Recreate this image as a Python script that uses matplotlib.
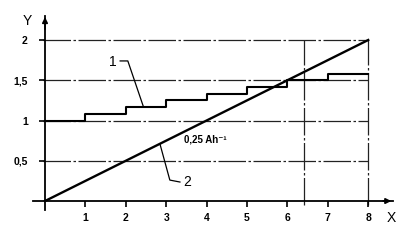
import matplotlib
matplotlib.use("Agg")
import matplotlib.pyplot as plt
import numpy as np

# Data
step_x = [0, 1, 2, 3, 4, 5, 6, 7, 8]
step_y = [1.0, 1.083, 1.167, 1.25, 1.333, 1.417, 1.5, 1.583, 1.583]
line_x = [0, 8]
line_y = [0, 2]
grid_y = [0.5, 1.0, 1.5, 2.0]
vlines_x = [6.4, 8.0]
xticks = [1, 2, 3, 4, 5, 6, 7, 8]
xticklabels = ["1", "2", "3", "4", "5", "6", "7", "8"]
yticks = [0.5, 1.0, 1.5, 2.0]
yticklabels = ["0,5", "1", "1,5", "2"]

plt.rcParams['font.family'] = ['Liberation Sans', 'DejaVu Sans']

fig = plt.figure(figsize=(4.12, 2.42), dpi=100)
ax = fig.add_axes([0, 0, 1, 1])
ax.set_xlim(-1.114, 9.084)
ax.set_ylim(-0.509, 2.497)

# grid lines
for gy in grid_y:
    ax.plot([-0.05, 8.0], [gy, gy], color='#222222', lw=0.9,
            linestyle=(0, (22, 2, 2, 2)), zorder=1)
for vx in vlines_x:
    ax.plot([vx, vx], [-0.05, 2.0], color='#222222', lw=0.9,
            linestyle=(0, (22, 2, 2, 2)), zorder=1)

# curves
ax.step(step_x, step_y, where='post', color='black', lw=1.5, zorder=3)
ax.plot(line_x, line_y, color='black', lw=1.7, zorder=3)

# axes (spines)
for s in ['top', 'right']:
    ax.spines[s].set_visible(False)
ax.spines['left'].set_position(('data', 0))
ax.spines['bottom'].set_position(('data', 0))
ax.spines['left'].set_bounds(-0.11, 2.30)
ax.spines['bottom'].set_bounds(-0.3, 8.62)
ax.spines['left'].set_linewidth(1.3)
ax.spines['bottom'].set_linewidth(1.3)
ax.annotate('', xy=(0, 2.32), xytext=(0, 2.1),
            arrowprops=dict(arrowstyle='-|>', lw=1.2, color='black', mutation_scale=8))
ax.annotate('', xy=(8.64, 0), xytext=(8.3, 0),
            arrowprops=dict(arrowstyle='-|>', lw=1.2, color='black', mutation_scale=8))

ax.set_xticks(xticks)
ax.set_xticklabels(xticklabels, fontsize=7.5, fontweight='bold')
ax.set_yticks(yticks)
ax.set_yticklabels(yticklabels, fontsize=7.5, fontweight='bold')
ax.tick_params(axis='x', direction='out', length=4.5, width=1.2, pad=4)
ax.tick_params(axis='y', direction='out', length=4.5, width=1.2, pad=8)

# axis names
ax.text(-0.45, 2.24, 'Y', fontsize=10, ha='center', va='center')
ax.text(8.56, -0.21, 'X', fontsize=10, ha='center', va='center')

# curve labels with leaders
ax.text(1.68, 1.73, '1', fontsize=10, ha='center', va='center')
ax.plot([1.86, 2.05, 2.43], [1.74, 1.74, 1.18], color='black', lw=0.9)
ax.text(3.53, 0.236, '2', fontsize=10, ha='center', va='center')
ax.plot([3.34, 3.09, 2.85], [0.236, 0.26, 0.70], color='black', lw=0.9)

ax.text(3.45, 0.76, '0,25 Ah⁻¹', fontsize=7, fontweight='bold',
        ha='left', va='center')

fig.savefig('out.png', dpi=100)
